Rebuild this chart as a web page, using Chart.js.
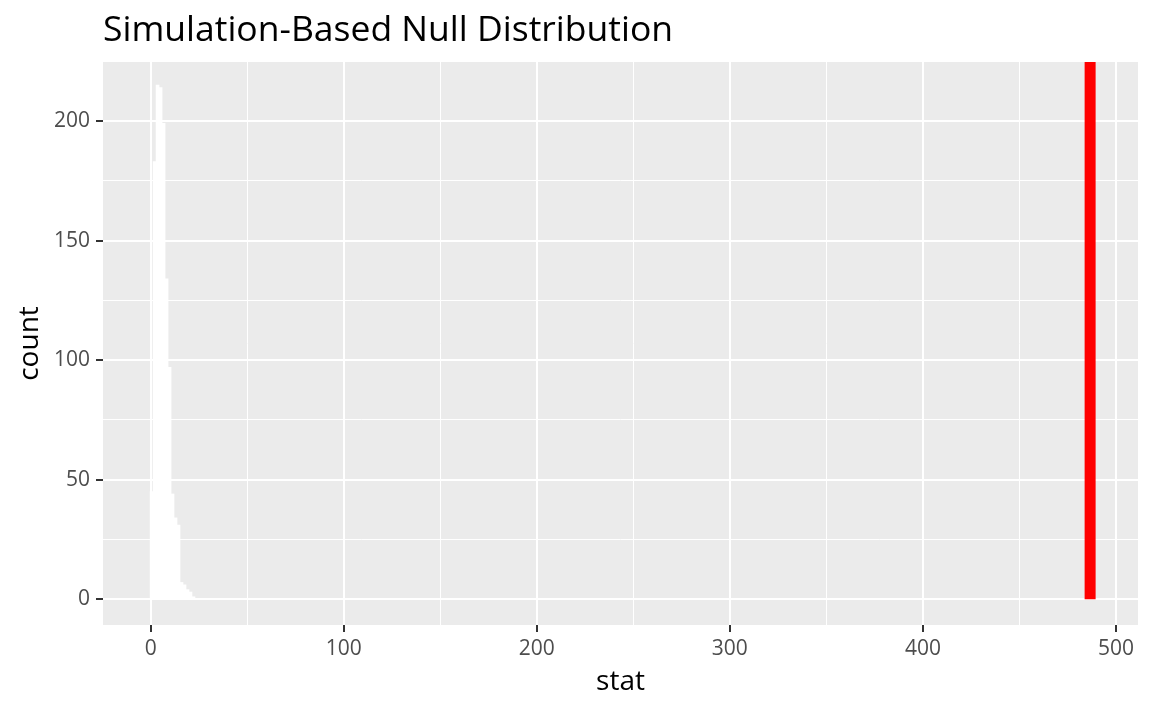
<!DOCTYPE html>
<html>
<head>
<meta charset="utf-8">
<script src="https://cdn.jsdelivr.net/npm/chart.js@4.4.1/dist/chart.umd.min.js"></script>
<style>
html,body{margin:0;padding:0;background:#ffffff;}
#wrap{width:1152px;height:711px;}
</style>
</head>
<body>
<div id="wrap"><canvas id="c" width="1152" height="711"></canvas></div>
<script>
// ---- data ----
const binCenters = [0.475, 2.025, 3.575, 5.125, 6.675, 8.225, 9.775, 11.325, 12.875, 14.425, 15.975, 17.525, 19.075, 20.625, 22.175];
const binCounts  = [45, 183, 215, 214, 199, 134, 97, 44, 34, 31, 7, 6, 4, 3, 1];
const observedStat = 486.6;
const xTickValues = [0, 50, 100, 150, 200, 250, 300, 350, 400, 450, 500];
const yTickValues = [0, 25, 50, 75, 100, 125, 150, 175, 200];
const xLabelEvery = 100;
const yLabelEvery = 50;
const titleText = 'Simulation-Based Null Distribution';
const xTitleText = 'stat';
const yTitleText = 'count';
const xRange = [-24.7, 511.4];
const yRange = [-10.8, 224.7];

const FONT = "'Open Sans', 'Noto Sans', sans-serif";
Chart.defaults.font.family = FONT;

const histData = binCenters.map((x, i) => ({x: x, y: binCounts[i]}));
const lineData = [{x: observedStat, y: 0}, {x: observedStat, y: yRange[1]}];

const decor = {
  id: 'decor',
  beforeDraw(chart) {
    const {ctx, chartArea: a} = chart;
    ctx.save();
    ctx.fillStyle = '#EBEBEB';
    ctx.fillRect(a.left, a.top, a.right - a.left, a.bottom - a.top);
    ctx.restore();
  },
  afterDraw(chart) {
    const {ctx, chartArea: a} = chart;
    ctx.save();
    ctx.fillStyle = '#000000';
    ctx.textAlign = 'left';
    ctx.textBaseline = 'alphabetic';
    ctx.font = '35.5px ' + FONT;
    ctx.fillText(titleText, a.left, 41);
    ctx.font = '28px ' + FONT;
    ctx.textAlign = 'center';
    ctx.fillText(xTitleText, (a.left + a.right) / 2, 690);
    ctx.translate(38, (a.top + a.bottom) / 2);
    ctx.rotate(-Math.PI / 2);
    ctx.fillText(yTitleText, 0, 0);
    ctx.restore();
  }
};

new Chart(document.getElementById('c'), {
  type: 'bar',
  data: {
    datasets: [
      {
        type: 'bar',
        data: histData,
        backgroundColor: '#FFFFFF',
        borderWidth: 0,
        barPercentage: 1.0,
        categoryPercentage: 1.0,
        order: 2
      },
      {
        type: 'line',
        data: lineData,
        borderColor: '#FF0000',
        borderWidth: 11,
        pointRadius: 0,
        fill: false,
        order: 1
      }
    ]
  },
  options: {
    responsive: false,
    animation: false,
    events: [],
    layout: {padding: {top: 62, right: 14, left: 0, bottom: 0}},
    plugins: {legend: {display: false}, tooltip: {enabled: false}, title: {display: false}},
    scales: {
      x: {
        type: 'linear',
        min: xRange[0],
        max: xRange[1],
        offset: false,
        afterBuildTicks(s) { s.ticks = xTickValues.map(v => ({value: v})); },
        afterFit(s) { s.height = 86; },
        border: {display: false},
        grid: {
          offset: false,
          color: '#FFFFFF',
          lineWidth: c => (c.tick && c.tick.value % xLabelEvery === 0) ? 2 : 1,
          drawTicks: true,
          tickLength: 7,
          tickWidth: c => (c.tick && c.tick.value % xLabelEvery === 0) ? 2 : 1,
          tickColor: c => (c.tick && c.tick.value % xLabelEvery === 0) ? '#333333' : 'rgba(0,0,0,0)'
        },
        ticks: {
          autoSkip: false,
          maxRotation: 0,
          padding: 4,
          color: '#4D4D4D',
          font: {size: 21, family: FONT},
          callback: v => (v % xLabelEvery === 0) ? String(v) : ''
        }
      },
      y: {
        type: 'linear',
        min: yRange[0],
        max: yRange[1],
        afterBuildTicks(s) { s.ticks = yTickValues.map(v => ({value: v})); },
        afterFit(s) { s.width = 103; },
        border: {display: false},
        grid: {
          color: '#FFFFFF',
          lineWidth: c => (c.tick && c.tick.value % yLabelEvery === 0) ? 2 : 1,
          drawTicks: true,
          tickLength: 7,
          tickWidth: c => (c.tick && c.tick.value % yLabelEvery === 0) ? 2 : 1,
          tickColor: c => (c.tick && c.tick.value % yLabelEvery === 0) ? '#333333' : 'rgba(0,0,0,0)'
        },
        ticks: {
          autoSkip: false,
          padding: 6,
          color: '#4D4D4D',
          font: {size: 21, family: FONT},
          callback: v => (v % yLabelEvery === 0) ? String(v) : ''
        }
      }
    }
  },
  plugins: [decor]
});
</script>
</body>
</html>
